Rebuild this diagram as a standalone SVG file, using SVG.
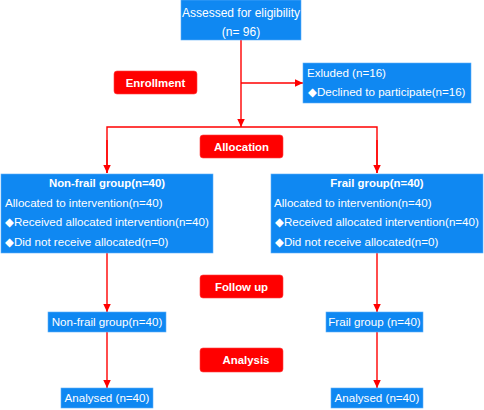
<svg xmlns="http://www.w3.org/2000/svg" width="484" height="410" viewBox="0 0 484 410">
<style>
.b{fill:#0f88f2;stroke:#5fb0f7;stroke-width:0.6}
.r{fill:#ff0000;stroke:#ff4040;stroke-width:0.6}
.t{font-family:"Liberation Sans",Arial,"DejaVu Sans",sans-serif;font-size:11.6px;fill:#fff}
.h{font-family:"Liberation Sans",Arial,sans-serif;font-size:11.4px;font-weight:bold;fill:#fff;text-anchor:middle}
.c{text-anchor:middle}
.l{fill:none;stroke:#ff0000;stroke-width:1.4}
</style>
<defs>
<marker id="a" viewBox="0 0 10 10" refX="10" refY="5" markerWidth="8" markerHeight="7.5" markerUnits="userSpaceOnUse" orient="auto" preserveAspectRatio="none">
<path d="M0,0 L10,5 L0,10 z" fill="#ff0000"/>
</marker>
</defs>
<rect width="484" height="410" fill="#fff"/>
<g id="connectors">
<path class="l" d="M241,40 V127" marker-end="url(#a)"/>
<path class="l" d="M241,83 H303" marker-end="url(#a)"/>
<path class="l" d="M107,173 V127 H377 V173"/>
<path class="l" d="M107,140 V173" marker-end="url(#a)"/>
<path class="l" d="M377,140 V173" marker-end="url(#a)"/>
<path class="l" d="M107,253 V312" marker-end="url(#a)"/>
<path class="l" d="M377,253 V312" marker-end="url(#a)"/>
<path class="l" d="M107,332 V388" marker-end="url(#a)"/>
<path class="l" d="M377,332 V388" marker-end="url(#a)"/>
</g>
<g id="assessed">
<rect class="b" x="181" y="0" width="120" height="40"/>
<text class="t c" x="241" y="16.5" style="font-size:12px">Assessed for eligibility</text>
<text class="t c" x="241" y="36" style="font-size:12px">(n= 96)</text>
</g>
<g id="enrollment">
<rect class="r" x="114" y="71" width="83" height="23" rx="3"/>
<text class="h" x="155.5" y="87">Enrollment</text>
</g>
<g id="excluded">
<rect class="b" x="303" y="63" width="168" height="40"/>
<text class="t" x="307" y="77">Exluded (n=16)</text>
<text class="t" x="308" y="96">◆Declined to participate(n=16)</text>
</g>
<g id="allocation">
<rect class="r" x="200" y="135" width="83" height="23" rx="3"/>
<text class="h" x="241.5" y="151">Allocation</text>
</g>
<g id="nonfrail">
<rect class="b" x="1" y="174" width="212" height="79"/>
<text class="h" x="107" y="187">Non-frail group(n=40)</text>
<text class="t" x="5" y="207">Allocated to intervention(n=40)</text>
<text class="t" x="5" y="226">◆Received allocated intervention(n=40)</text>
<text class="t" x="5" y="246">◆Did not receive allocated(n=0)</text>
</g>
<g id="frail">
<rect class="b" x="271" y="174" width="212" height="79"/>
<text class="h" x="377" y="187">Frail group(n=40)</text>
<text class="t" x="274" y="207">Allocated to intervention(n=40)</text>
<text class="t" x="275" y="226">◆Received allocated intervention(n=40)</text>
<text class="t" x="275" y="246">◆Did not receive allocated(n=0)</text>
</g>
<g id="followup">
<rect class="r" x="200" y="275" width="83" height="23" rx="3"/>
<text class="h" x="241.5" y="291">Follow up</text>
</g>
<g id="nonfrail2">
<rect class="b" x="48" y="312" width="118" height="20"/>
<text class="t c" x="107" y="326">Non-frail group(n=40)</text>
</g>
<g id="frail2">
<rect class="b" x="326" y="312" width="97" height="20"/>
<text class="t c" x="374.5" y="326">Frail group (n=40)</text>
</g>
<g id="analysis">
<rect class="r" x="200" y="348" width="83" height="24" rx="3"/>
<text class="h" x="246" y="364">Analysis</text>
</g>
<g id="analysed1">
<rect class="b" x="61" y="388" width="92" height="20"/>
<text class="t c" x="107" y="402">Analysed (n=40)</text>
</g>
<g id="analysed2">
<rect class="b" x="331" y="388" width="92" height="20"/>
<text class="t c" x="377" y="402">Analysed (n=40)</text>
</g>
</svg>
